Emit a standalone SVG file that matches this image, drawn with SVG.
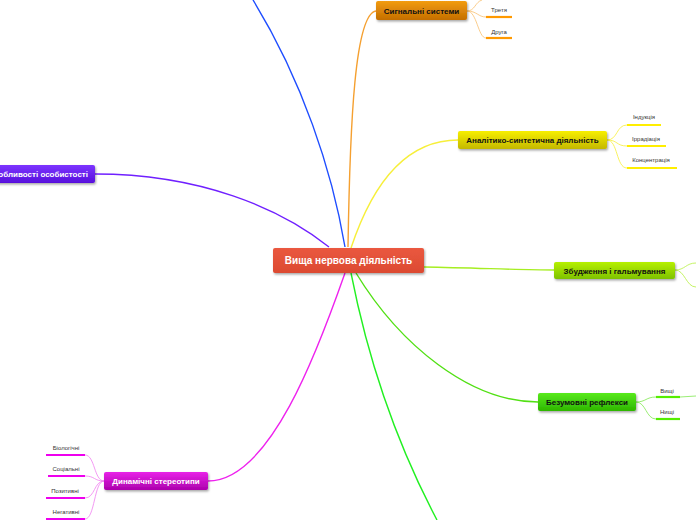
<svg xmlns="http://www.w3.org/2000/svg" width="696" height="520" viewBox="0 0 696 520">
<style>
.nt{font-family:"Liberation Sans",Arial,sans-serif;font-weight:bold;font-size:8px;text-anchor:middle}
.lt{font-family:"Liberation Sans",Arial,sans-serif;font-size:6px;fill:#333;text-anchor:middle}
.c{fill:none;stroke-width:1.4}
.s{fill:none;stroke-width:0.8}
.u{stroke-width:2.2}
</style>
<defs>
<filter id="sh" x="-10%" y="-30%" width="120%" height="170%"><feDropShadow dx="1" dy="1.5" stdDeviation="1" flood-color="#000" flood-opacity="0.35"/></filter>
<linearGradient id="gRed" x1="0" y1="0" x2="0" y2="1"><stop offset="0" stop-color="#ea583f"/><stop offset="1" stop-color="#dc4a32"/></linearGradient>
<linearGradient id="gOr" x1="0" y1="0" x2="0" y2="1"><stop offset="0" stop-color="#f29c12"/><stop offset="1" stop-color="#c46e00"/></linearGradient>
<linearGradient id="gYe" x1="0" y1="0" x2="0" y2="1"><stop offset="0" stop-color="#f7ef00"/><stop offset="1" stop-color="#c4b800"/></linearGradient>
<linearGradient id="gLi" x1="0" y1="0" x2="0" y2="1"><stop offset="0" stop-color="#b6f000"/><stop offset="1" stop-color="#7ec200"/></linearGradient>
<linearGradient id="gGr" x1="0" y1="0" x2="0" y2="1"><stop offset="0" stop-color="#58ea1c"/><stop offset="1" stop-color="#2eb600"/></linearGradient>
<linearGradient id="gMa" x1="0" y1="0" x2="0" y2="1"><stop offset="0" stop-color="#e824e8"/><stop offset="1" stop-color="#ac00ac"/></linearGradient>
<linearGradient id="gPu" x1="0" y1="0" x2="0" y2="1"><stop offset="0" stop-color="#7c34ff"/><stop offset="1" stop-color="#5810dc"/></linearGradient>
</defs>
<rect width="696" height="520" fill="#fff"/>
<g id="connectors">
<path class="c" stroke="#1e4dff" d="M345,247 C332,170 302,80 253,0"/>
<path class="c" stroke="#f5a030" d="M348,247 C350,120 355,14 376,11"/>
<path class="c" stroke="#f7ef3a" d="M351,248 C372,185 405,140 458,140"/>
<path class="c" stroke="#a6ee22" d="M424,267 C480,268 520,270 554,270"/>
<path class="c" stroke="#52e014" d="M356,273 C400,345 470,402 538,402"/>
<path class="c" stroke="#22f022" d="M351,273 C370,370 400,450 437,520"/>
<path class="c" stroke="#ee22ee" d="M345,273 C318,350 270,481 208,481"/>
<path class="c" stroke="#7020ff" d="M329,247 C280,208 200,174 95,174"/>
<g stroke="#f9c070">
<path class="s" d="M467,11 C475,11 475,2 482,0"/>
<path class="s" d="M467,11 C477,11 478,17 486,17"/>
<path class="s" d="M467,11 C477,11 478,38 486,38"/>
</g>
<g stroke="#f7ef3a">
<path class="s" d="M607,140 C618,140 616,125 627,125"/>
<path class="s" d="M607,140 C618,140 616,146 627,146"/>
<path class="s" d="M607,140 C618,140 616,168 627,168"/>
</g>
<g stroke="#b6f040">
<path class="s" d="M675,270 C685,270 686,263 696,263"/>
<path class="s" d="M675,270 C685,270 686,287 696,287"/>
</g>
<g stroke="#80e850">
<path class="s" d="M636,402 C646,402 646,397 656,397"/>
<path class="s" d="M636,402 C646,402 646,419 656,419"/>
<path class="s" d="M680,397 L696,396"/>
</g>
<g stroke="#f080f0">
<path class="s" d="M104,481 C94,481 95,455 85,455"/>
<path class="s" d="M104,481 C94,481 95,476 85,476"/>
<path class="s" d="M104,481 C94,481 95,498 85,498"/>
<path class="s" d="M104,481 C94,481 95,519 85,519"/>
</g>
</g>
<g id="center">
<rect x="273" y="248" width="151" height="25" rx="2" fill="url(#gRed)" filter="url(#sh)"/>
<text class="nt" x="348.5" y="264" fill="#fff" style="font-size:10px">Вища нервова діяльність</text>
</g>
<g id="n-signal">
<rect x="376" y="1" width="91" height="19" rx="2" fill="url(#gOr)" filter="url(#sh)"/>
<text class="nt" x="421.5" y="13.5" fill="#111">Сигнальні системи</text>
</g>
<g id="n-signal-3"><text class="lt" x="499" y="12">Третя</text><line class="u" x1="486" y1="17" x2="512" y2="17" stroke="#ff9900"/></g>
<g id="n-signal-2"><text class="lt" x="499" y="33.5">Друга</text><line class="u" x1="486" y1="38" x2="512" y2="38" stroke="#ff9900"/></g>
<g id="n-analit">
<rect x="458" y="131" width="149" height="18" rx="2" fill="url(#gYe)" filter="url(#sh)"/>
<text class="nt" x="532.5" y="143" fill="#111">Аналітико-синтетична діяльність</text>
</g>
<g id="n-ind"><text class="lt" x="644" y="119">Індукція</text><line class="u" x1="627" y1="125" x2="661" y2="125" stroke="#ffee00"/></g>
<g id="n-irr"><text class="lt" x="646" y="141">Іррадіація</text><line class="u" x1="627" y1="146" x2="666" y2="146" stroke="#ffee00"/></g>
<g id="n-konc"><text class="lt" x="651" y="162">Концентрація</text><line class="u" x1="627" y1="168" x2="677" y2="168" stroke="#ffee00"/></g>
<g id="n-zbud">
<rect x="554" y="262" width="121" height="17" rx="2" fill="url(#gLi)" filter="url(#sh)"/>
<text class="nt" x="614.5" y="273.5" fill="#111">Збудження і гальмування</text>
</g>
<g id="n-bezum">
<rect x="538" y="393" width="98" height="18" rx="2" fill="url(#gGr)" filter="url(#sh)"/>
<text class="nt" x="587" y="405" fill="#111">Безумовні рефлекси</text>
</g>
<g id="n-vyshchi"><text class="lt" x="667" y="393">Вищі</text><line class="u" x1="656" y1="397" x2="680" y2="397" stroke="#55ee00"/></g>
<g id="n-nyshchi"><text class="lt" x="667" y="414">Нищі</text><line class="u" x1="656" y1="419" x2="680" y2="419" stroke="#55ee00"/></g>
<g id="n-dyn">
<rect x="104" y="472" width="104" height="18" rx="2" fill="url(#gMa)" filter="url(#sh)"/>
<text class="nt" x="156" y="484" fill="#fff">Динамічні стереотипи</text>
</g>
<g id="n-bio"><text class="lt" x="66" y="450">Біологічні</text><line class="u" x1="46" y1="455" x2="85" y2="455" stroke="#ee00ee"/></g>
<g id="n-soc"><text class="lt" x="66" y="471">Соціальні</text><line class="u" x1="48" y1="476" x2="85" y2="476" stroke="#ee00ee"/></g>
<g id="n-poz"><text class="lt" x="65" y="493">Позитивні</text><line class="u" x1="46" y1="498" x2="85" y2="498" stroke="#ee00ee"/></g>
<g id="n-neg"><text class="lt" x="66" y="514">Негативні</text><line class="u" x1="46" y1="519" x2="85" y2="519" stroke="#ee00ee"/></g>
<g id="n-osob">
<rect x="-30" y="165" width="125" height="18" rx="2" fill="url(#gPu)" filter="url(#sh)"/>
<text class="nt" x="88" y="177" fill="#fff" style="text-anchor:end">Особливості особистості</text>
</g>
</svg>
